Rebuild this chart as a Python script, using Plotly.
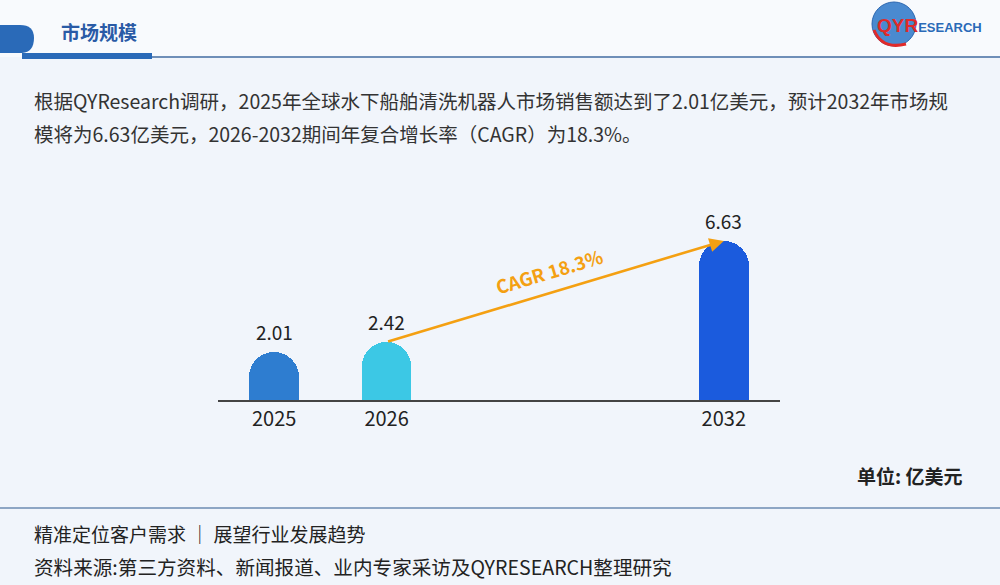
import math
import plotly.graph_objects as go

# ---- data ----
years = ["2025", "2026", "2032"]
values = [2.01, 2.42, 6.63]
slots = [0, 1, 4]          # horizontal slot of each year on the axis
bar_colors = ["#2e7dd0", "#3cc8e5", "#1b5bdd"]
cagr_text = "CAGR 18.3%"
title_text = "市场规模"
desc_line1 = "根据QYResearch调研，2025年全球水下船舶清洗机器人市场销售额达到了2.01亿美元，预计2032年市场规"
desc_line2 = "模将为6.63亿美元，2026-2032期间年复合增长率（CAGR）为18.3%。"
unit_text = "单位: 亿美元"
footer1 = "精准定位客户需求 ｜ 展望行业发展趋势"
footer2 = "资料来源:第三方资料、新闻报道、业内专家采访及QYRESEARCH整理研究"

W, H = 1000, 585
ML, MR, MT, MB = 218, 220, 200, 185
PW, PH = W - ML - MR, H - MT - MB
xr = [-0.5, 4.5]
yr = [0, 200 / 24.0]
FONT = "Noto Sans CJK SC, Noto Sans, sans-serif"


def fx(px):
    return (px - ML) / PW


def fy(py):
    return (H - MB - py) / PH


fig = go.Figure()
fig.add_trace(go.Bar(
    x=slots, y=values, width=0.44,
    marker=dict(color=bar_colors, cornerradius="50%", line=dict(width=0)),
    hoverinfo="skip", showlegend=False,
))

annotations = []
for s, v in zip(slots, values):
    annotations.append(dict(x=s, y=v, xref="x", yref="y", text=f"{v:.2f}",
                            showarrow=False, yanchor="bottom", yshift=5,
                            font=dict(size=19, color="#222222", family=FONT)))

# CAGR arrow from 2026 to 2032
annotations.append(dict(x=slots[2], y=values[2], ax=slots[1], ay=values[1],
                        xref="x", yref="y", axref="x", ayref="y", text="",
                        showarrow=True, arrowhead=2, arrowsize=1.1, arrowwidth=2.6,
                        arrowcolor="#f4a012"))
px_per_x = PW / (xr[1] - xr[0])
px_per_y = PH / (yr[1] - yr[0])
ang = math.degrees(math.atan2((values[2] - values[1]) * px_per_y,
                              (slots[2] - slots[1]) * px_per_x))
mx = 2.45
my = values[1] + (mx - slots[1]) / (slots[2] - slots[1]) * (values[2] - values[1])
annotations.append(dict(x=mx, y=my, xref="x", yref="y", text=f"<b>{cagr_text}</b>",
                        showarrow=False, textangle=-ang, yshift=22,
                        font=dict(size=18.5, color="#f4a012", family=FONT)))


def ptext(x, y, text, size, color, xanchor="left", family=FONT):
    annotations.append(dict(x=fx(x), y=fy(y), xref="paper", yref="paper", text=text,
                            showarrow=False, xanchor=xanchor, yanchor="middle",
                            font=dict(size=size, color=color, family=family)))


ptext(59, 32, f"<b>{title_text}</b>", 19, "#2a5ba6")
ptext(32, 101, desc_line1, 19.5, "#333333")
ptext(32, 133, desc_line2, 19.5, "#333333")
ptext(965, 475, f"<b>{unit_text}</b>", 19, "#222222", xanchor="right")
ptext(32, 533, footer1, 19, "#222222")
ptext(32, 566, footer2, 19.6, "#222222")
ptext(875, 26, "<b><span style='font-size:19px;color:#e02a2a'>QYR</span>"
               "<span style='font-size:13px;color:#2a6ab8'>ESEARCH</span></b>",
      13, "#2a6ab8", family="Liberation Sans, Arial, sans-serif")


def px_rect(x0, y0, x1, y1, color):
    return dict(type="rect", xref="paper", yref="paper",
                x0=fx(x0), x1=fx(x1), y0=fy(y1), y1=fy(y0),
                fillcolor=color, line=dict(width=0), layer="below")


shapes = [
    px_rect(0, 0, 1000, 57, "#f8fafd"),
    dict(type="path", xref="paper", yref="paper", layer="below", fillcolor="#2a6ab8",
         line=dict(width=0),
         path=" ".join([
             f"M {fx(0)} {fy(25)}", f"L {fx(20)} {fy(25)}",
             f"Q {fx(34)} {fy(25)} {fx(34)} {fy(38)}",
             f"Q {fx(34)} {fy(52)} {fx(22)} {fy(53)}",
             f"L {fx(0)} {fy(53)} Z"])),
    px_rect(22, 53, 152, 59, "#2a6ab8"),
    px_rect(152, 56, 1000, 58, "#6f8fb8"),
    px_rect(0, 507, 1000, 509, "#8ea6c4"),
    dict(type="circle", xref="paper", yref="paper", layer="below",
         x0=fx(872), x1=fx(916), y0=fy(46), y1=fy(2),
         fillcolor="#4a8ad0", line=dict(color="#2b66b0", width=1)),
    dict(type="path", xref="paper", yref="paper", layer="below",
         path=f"M {fx(874)} {fy(30)} Q {fx(882)} {fy(50)} {fx(906)} {fy(44)}",
         line=dict(color="#e02a2a", width=3)),
]

fig.update_layout(
    width=W, height=H,
    margin=dict(l=ML, r=MR, t=MT, b=MB, pad=0),
    paper_bgcolor="#f1f5fb", plot_bgcolor="rgba(0,0,0,0)",
    xaxis=dict(range=xr, tickmode="array", tickvals=slots, ticktext=years,
               showgrid=False, zeroline=False, showline=True, linecolor="#444444",
               linewidth=1.5, ticks="", ticklen=0,
               tickfont=dict(size=20, color="#222222", family=FONT), fixedrange=True),
    yaxis=dict(range=yr, visible=False, showgrid=False, zeroline=False, fixedrange=True),
    annotations=annotations, shapes=shapes, bargap=0,
    font=dict(family=FONT),
)

fig.write_html("out.html", config={"displayModeBar": False},
               post_script="document.body.style.margin='0';document.body.style.overflow='hidden';")
